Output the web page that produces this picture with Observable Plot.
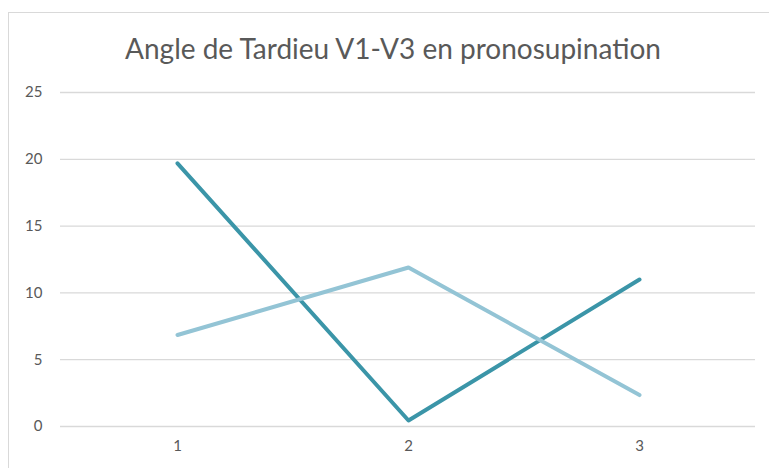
<!DOCTYPE html>
<html>
<head>
<meta charset="utf-8">
<script src="https://cdn.jsdelivr.net/npm/d3@7"></script>
<script src="https://cdn.jsdelivr.net/npm/@observablehq/plot@0.6"></script>
<style>
  html, body { margin: 0; padding: 0; background: #fff; }
  body { width: 769px; height: 468px; position: relative; overflow: hidden; font-family: Lato, "Open Sans", sans-serif; }
  #frame { position: absolute; left: 8px; top: 12px; width: 770px; height: 470px; border: 1px solid #d9d9d9; box-sizing: border-box; }
  #title { position: absolute; left: 0; top: 34px; width: 786px; text-align: center; font-size: 28px; line-height: 28px; color: #595959; font-family: Lato, sans-serif; white-space: nowrap; }
  #chart { position: absolute; left: 0; top: 70px; }
</style>
</head>
<body>
<div id="frame"></div>
<div id="title">Angle de Tardieu V1-V3 en pronosupination</div>
<div id="chart"></div>
<script>
const categories = [1, 2, 3];
const seriesA = [19.7, 0.45, 11.0];   // dark teal
const seriesB = [6.85, 11.9, 2.35];   // light blue
const yTicks = [0, 5, 10, 15, 20, 25];

const dataA = categories.map((c, i) => ({x: c, y: seriesA[i]}));
const dataB = categories.map((c, i) => ({x: c, y: seriesB[i]}));

const chart = Plot.plot({
  width: 769,
  height: 398,
  marginTop: 22,
  marginBottom: 42,
  marginLeft: 60,
  marginRight: 14,
  style: {fontFamily: "Lato, sans-serif", fontSize: "15px", color: "#595959", background: "transparent"},
  x: {type: "point", domain: categories, padding: 0.5, label: null},
  y: {domain: [0, 25], ticks: yTicks, label: null},
  marks: [
    Plot.ruleY(yTicks, {stroke: "#d9d9d9", strokeWidth: 1.3}),
    Plot.axisY({ticks: yTicks, tickSize: 0, tickPadding: 18, label: null, fontSize: 15}),
    Plot.axisX({tickSize: 0, tickPadding: 14, label: null, fontSize: 15}),
    Plot.line(dataA, {x: "x", y: "y", stroke: "#3b95a8", strokeWidth: 4, strokeLinecap: "round", strokeLinejoin: "round"}),
    Plot.line(dataB, {x: "x", y: "y", stroke: "#93c4d5", strokeWidth: 4, strokeLinecap: "round", strokeLinejoin: "round"})
  ]
});
document.getElementById("chart").appendChild(chart);
</script>
</body>
</html>
